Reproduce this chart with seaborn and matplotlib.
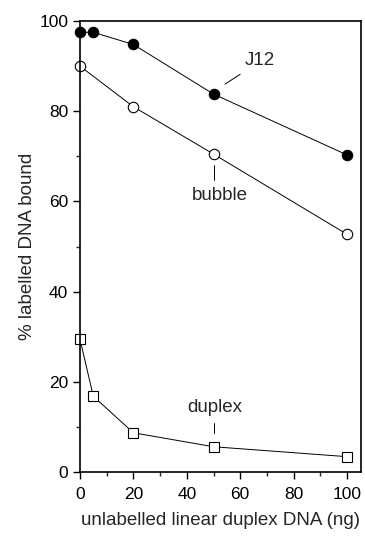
import matplotlib
matplotlib.use("Agg")
import matplotlib.pyplot as plt
import seaborn as sns
import pandas as pd
from matplotlib.ticker import MultipleLocator

sns.set_style("ticks")
plt.rcParams['font.family'] = ['Liberation Sans', 'DejaVu Sans']

j12_x = [0, 5, 20, 50, 100]
j12_y = [97.5, 97.5, 94.8, 83.8, 70.3]
bubble_x = [0, 20, 50, 100]
bubble_y = [90.0, 81.0, 70.5, 52.7]
duplex_x = [0, 5, 20, 50, 100]
duplex_y = [29.5, 16.8, 8.7, 5.6, 3.4]

x_ticks = [0, 20, 40, 60, 80, 100]
y_ticks = [0, 20, 40, 60, 80, 100]

fig = plt.figure(figsize=(3.65, 5.39), dpi=100)
ax = fig.add_axes([0.219, 0.1243, 0.770, 0.8367])

common = dict(ax=ax, color="black", linewidth=0.7, markersize=7.5,
              markeredgecolor="black", markeredgewidth=0.8, clip_on=False,
              legend=False)
sns.lineplot(x=j12_x, y=j12_y, marker="o", markerfacecolor="black", **common)
sns.lineplot(x=bubble_x, y=bubble_y, marker="o", markerfacecolor="white", **common)
sns.lineplot(x=duplex_x, y=duplex_y, marker="s", markerfacecolor="white", **common)

ax.set_xlim(0, 105.2)
ax.set_ylim(0, 100)
ax.set_xticks(x_ticks)
ax.set_yticks(y_ticks)
ax.xaxis.set_minor_locator(MultipleLocator(10))
ax.yaxis.set_minor_locator(MultipleLocator(10))
ax.tick_params(which="major", direction="out", length=5, width=1, labelsize=12.5, colors="black")
ax.tick_params(which="minor", direction="out", length=3, width=1)
ax.tick_params(axis="x", pad=6)
for s in ax.spines.values():
    s.set_linewidth(1.2)
    s.set_color("black")

ax.set_xlabel("unlabelled linear duplex DNA (ng)", fontsize=13.5, labelpad=7)
ax.set_ylabel("% labelled DNA bound", fontsize=13.5, labelpad=2)

ax.text(67.4, 91.3, "J12", fontsize=13.5, ha="center", va="center")
ax.plot([54.3, 60.0], [86.0, 88.2], color="black", linewidth=0.7)
ax.text(52.4, 61.3, "bubble", fontsize=13.5, ha="center", va="center")
ax.plot([50, 50], [64.7, 68.1], color="black", linewidth=0.7)
ax.text(50.4, 14.2, "duplex", fontsize=13.5, ha="center", va="center")
ax.plot([50, 50], [8.6, 10.9], color="black", linewidth=0.7)

fig.savefig("out.png", dpi=100)
